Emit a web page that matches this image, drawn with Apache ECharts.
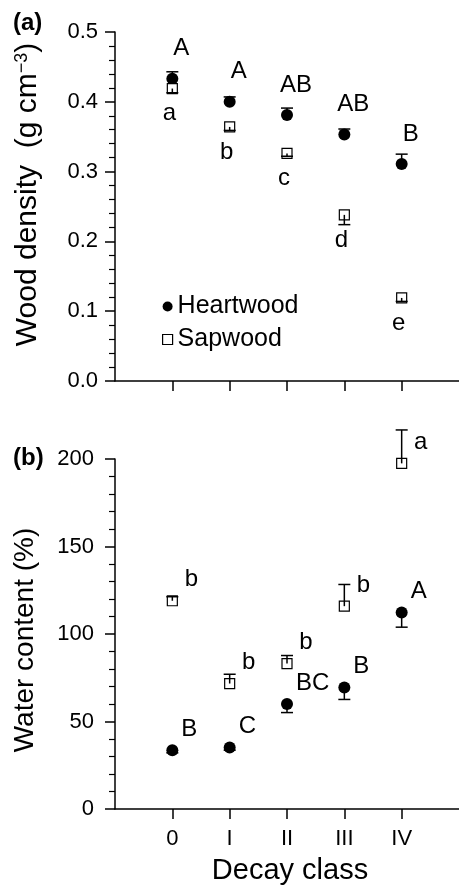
<!DOCTYPE html>
<html><head><meta charset="utf-8">
<script src="https://cdn.jsdelivr.net/npm/echarts@6/dist/echarts.min.js"></script>
<style>html,body{margin:0;padding:0;background:#fff}#c{width:459px;height:887px}</style>
</head><body><div id="c"></div>
<script>
// ---- data ----
const classLabels = ['0', 'I', 'II', 'III', 'IV'];
const classPositions = [0, 1, 2, 3, 4];

const densityHeart = [0.433, 0.400, 0.381, 0.353, 0.311];
const densityHeartErr = [0.010, 0.007, 0.010, 0.008, 0.014];
const densitySap = [0.419, 0.364, 0.326, 0.238, 0.119];
const densitySapErr = [0.006, 0.005, 0.004, 0.014, 0.005];
const densityHeartLetters = ['A', 'A', 'AB', 'AB', 'B'];
const densitySapLetters = ['a', 'b', 'c', 'd', 'e'];
const densityTicks = ['0.0', '0.1', '0.2', '0.3', '0.4', '0.5'];

const waterHeart = [33.6, 35.1, 60.0, 69.4, 112.3];
const waterHeartErr = [1.5, 1.5, 4.9, 6.8, 8.4];
const waterSap = [119.0, 71.7, 83.1, 115.9, 197.5];
const waterSapErr = [2.3, 5.3, 4.6, 12.4, 19.1];
const waterHeartLetters = ['B', 'C', 'BC', 'B', 'A'];
const waterSapLetters = ['b', 'b', 'b', 'b', 'a'];
const waterTicks = ['0', '50', '100', '150', '200'];

// ---- styling ----
const FF = "'Liberation Sans', Arial, Helvetica, sans-serif";
const BLACK = '#000';

function pts(vals) { return vals.map((v, i) => [classPositions[i], v]); }
function errPts(vals, errs) { return vals.map((v, i) => [classPositions[i], v, errs[i]]); }

function errRender(dir) {
  return function (params, api) {
    const x = api.value(0), y = api.value(1), e = api.value(2);
    const p0 = api.coord([x, y]);
    const p1 = api.coord([x, y + dir * e]);
    const hw = 6;
    return {
      type: 'group',
      children: [
        { type: 'line', shape: { x1: p0[0], y1: p0[1], x2: p1[0], y2: p1[1] }, style: { stroke: BLACK, lineWidth: 1.5 } },
        { type: 'line', shape: { x1: p1[0] - hw, y1: p1[1], x2: p1[0] + hw, y2: p1[1] }, style: { stroke: BLACK, lineWidth: 1.5 } }
      ]
    };
  };
}

function heartSeries(g, vals, letters, offset, align) {
  return {
    name: 'Heartwood', type: 'scatter', xAxisIndex: g, yAxisIndex: g, clip: false, z: 3,
    data: pts(vals), symbol: 'circle', symbolSize: 12,
    itemStyle: { color: BLACK, opacity: 1 },
    label: { show: true, position: 'inside', offset: offset, align: align, verticalAlign: 'middle',
      color: BLACK, fontSize: 24, fontFamily: FF, formatter: p => letters[p.dataIndex] },
    emphasis: { disabled: true }
  };
}
function sapSeries(g, vals, letters, offset, align) {
  return {
    name: 'Sapwood', type: 'scatter', xAxisIndex: g, yAxisIndex: g, clip: false, z: 4,
    data: pts(vals), symbol: 'rect', symbolSize: 10,
    itemStyle: { color: '#fff', borderColor: BLACK, borderWidth: 1.2, opacity: 1 },
    label: { show: true, position: 'inside', offset: offset, align: align, verticalAlign: 'middle',
      color: BLACK, fontSize: 24, fontFamily: FF, formatter: p => letters[p.dataIndex] },
    emphasis: { disabled: true }
  };
}
function errSeries(g, vals, errs, dir, z) {
  return {
    name: 'err' + g + dir + z, type: 'custom', xAxisIndex: g, yAxisIndex: g, clip: false, z: z,
    renderItem: errRender(dir), data: errPts(vals, errs), silent: true
  };
}

const axisLineStyle = { color: BLACK, width: 1.5 };

function xAxis(g, showLabels) {
  return {
    gridIndex: g, type: 'value', min: -1, max: 5, interval: 1,
    axisLine: { show: true, onZero: false, lineStyle: axisLineStyle },
    axisTick: { show: true, customValues: classPositions, length: 10, inside: false, lineStyle: axisLineStyle },
    axisLabel: showLabels ? {
      show: true, customValues: classPositions, margin: 19, color: BLACK, fontSize: 22, fontFamily: FF,
      formatter: v => classLabels[Math.round(v)]
    } : { show: false },
    splitLine: { show: false },
    name: showLabels ? 'Decay class' : '',
    nameLocation: 'middle', nameGap: 47,
    nameTextStyle: { color: BLACK, fontSize: 29, fontFamily: FF, padding: [0, 0, 0, 6] }
  };
}

function yAxis(g, max, interval, ticks, name, nameGap, margin, nameSize, namePad) {
  return {
    gridIndex: g, type: 'value', min: 0, max: max, interval: interval,
    axisLine: { show: true, onZero: false, lineStyle: axisLineStyle },
    axisTick: { show: true, length: 10, inside: false, lineStyle: axisLineStyle },
    minorTick: { show: true, splitNumber: 5, length: 6, lineStyle: { color: BLACK, width: 1.2 } },
    axisLabel: { margin: margin, color: BLACK, fontSize: 22, fontFamily: FF,
      formatter: v => ticks[Math.round(v / interval)] },
    splitLine: { show: false },
    name: name, nameLocation: 'middle', nameRotate: 90, nameGap: nameGap,
    nameTextStyle: { color: BLACK, fontSize: nameSize, fontFamily: FF, padding: namePad,
      rich: {
        n: { fontSize: nameSize, fontFamily: FF, color: BLACK },
        sup: { fontSize: 18, fontFamily: FF, color: BLACK, verticalAlign: 'top' }
      } }
  };
}

const chart = echarts.init(document.getElementById('c'), null, { renderer: 'canvas' });
chart.setOption({
  animation: false,
  backgroundColor: '#fff',
  title: [
    { text: '(a)', left: 13, top: 11, padding: 0, textStyle: { fontSize: 24, fontWeight: 'bold', color: BLACK, fontFamily: FF } },
    { text: '(b)', left: 13, top: 446, padding: 0, textStyle: { fontSize: 24, fontWeight: 'bold', color: BLACK, fontFamily: FF } }
  ],
  legend: {
    orient: 'vertical', left: 162, top: 294, padding: 0, itemWidth: 10, itemHeight: 10, itemGap: 8, itemTextGap: 7,
    selectedMode: false,
    textStyle: { fontSize: 25, color: BLACK, fontFamily: FF, lineHeight: 24 },
    data: [
      { name: 'Heartwood', icon: 'circle', itemStyle: { color: BLACK, opacity: 1 } },
      { name: 'Sapwood', icon: 'rect', itemStyle: { color: '#fff', borderColor: BLACK, borderWidth: 1.2, opacity: 1 } }
    ]
  },
  grid: [
    { left: 115, right: -6, top: 32, height: 349 },
    { left: 115, right: -6, top: 459, height: 350 }
  ],
  xAxis: [xAxis(0, false), xAxis(1, true)],
  yAxis: [
    yAxis(0, 0.5, 0.1, densityTicks, '{n|Wood density  (g cm}{sup|\u22123}{n|)}', 72, 17, 30, [0, 0, 0, 24]),
    yAxis(1, 200, 50, waterTicks, 'Water content (%)', 76, 21, 28, [0, 12, 0, 0])
  ],
  series: [
    errSeries(0, densityHeart, densityHeartErr, 1, 2),
    heartSeries(0, densityHeart, densityHeartLetters, [9, -30], 'center'),
    sapSeries(0, densitySap, densitySapLetters, [-3, 25], 'center'),
    errSeries(0, densitySap, densitySapErr, -1, 5),
    errSeries(1, waterHeart, waterHeartErr, -1, 2),
    heartSeries(1, waterHeart, waterHeartLetters, [9, -21], 'left'),
    sapSeries(1, waterSap, waterSapLetters, [19, -21], 'center'),
    errSeries(1, waterSap, waterSapErr, 1, 5)
  ]
});
</script>
</body></html>
